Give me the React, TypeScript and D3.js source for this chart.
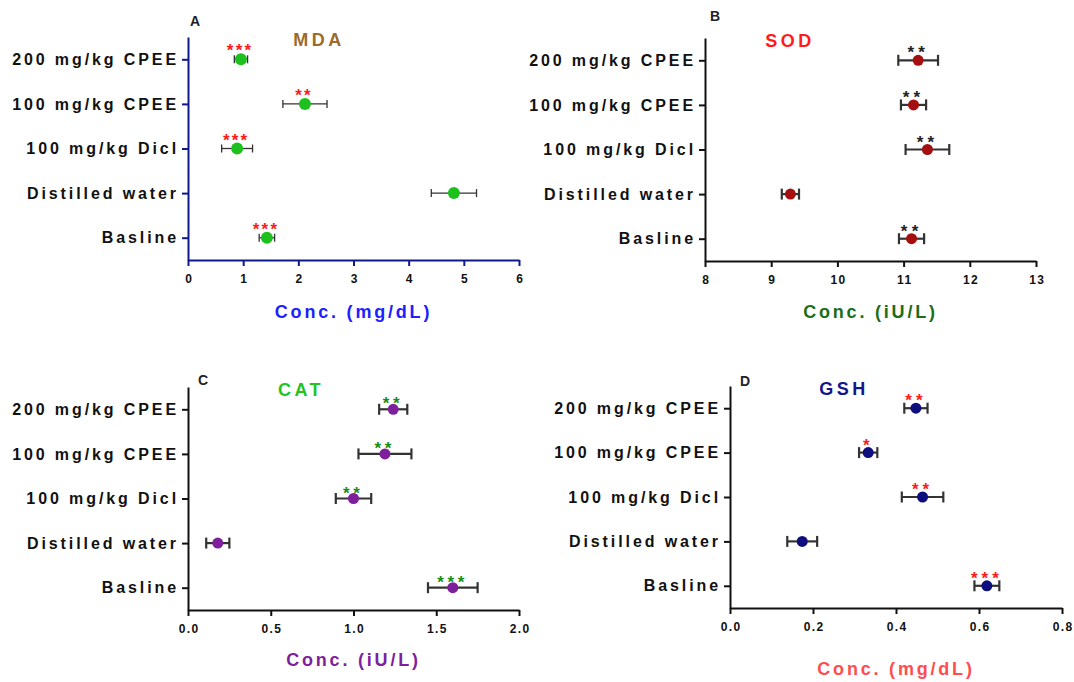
import React, { useEffect, useRef } from 'react';
import * as d3 from 'd3';

const groups = ['200 mg/kg CPEE', '100 mg/kg CPEE', '100 mg/kg Dicl', 'Distilled water', 'Basline'];

// MDA (mg/dL)
const mdaMean = [0.96, 2.12, 0.89, 4.82, 1.43];
const mdaSem = [0.12, 0.4, 0.28, 0.41, 0.14];
const mdaStars = ['***', '**', '***', '', '***'];
const mdaTicks = [0, 1, 2, 3, 4, 5, 6];

// SOD (iU/L)
const sodMean = [11.22, 11.15, 11.36, 9.29, 11.12];
const sodSem = [0.3, 0.19, 0.33, 0.13, 0.19];
const sodStars = ['**', '**', '**', '', '**'];
const sodTicks = [8, 9, 10, 11, 12, 13];

// CAT (iU/L)
const catMean = [1.24, 1.19, 1.0, 0.18, 1.6];
const catSem = [0.085, 0.16, 0.107, 0.07, 0.15];
const catStars = ['**', '**', '**', '', '***'];
const catTicks = [0, 0.5, 1, 1.5, 2];

// GSH (mg/dL)
const gshMean = [0.448, 0.333, 0.464, 0.174, 0.619];
const gshSem = [0.028, 0.022, 0.05, 0.036, 0.03];
const gshStars = ['**', '*', '**', '', '***'];
const gshTicks = [0, 0.2, 0.4, 0.6, 0.8];

const FONT = '"Liberation Sans", Arial, sans-serif';

const panels = [
  {
    letter: 'A', title: 'MDA', titleColor: '#9b6a2c', xLabel: 'Conc. (mg/dL)', xLabelColor: '#2020ff',
    mean: mdaMean, sem: mdaSem, stars: mdaStars, ticks: mdaTicks, fmt: d3.format('d'),
    x0: 188, x1: 519, top: 37, bottom: 260, axisColor: '#10198c', dot: '#1ec01e', r: 6,
    barW: 1.3, cap: 4, starColor: '#ff1a1a', starSpacing: 2.2, starDy: -3,
    titleX: 319, letterX: 195, letterY: 26, xLabelDy: 58,
  },
  {
    letter: 'B', title: 'SOD', titleColor: '#ff1a1a', xLabel: 'Conc. (iU/L)', xLabelColor: '#1a6e1a',
    mean: sodMean, sem: sodSem, stars: sodStars, ticks: sodTicks, fmt: d3.format('d'),
    x0: 705, x1: 1036, top: 38, bottom: 261, axisColor: '#111', dot: '#a50f0f', r: 5.5,
    barW: 2.2, cap: 5.5, starColor: '#222', starSpacing: 4.2, starDy: -2,
    titleX: 790, letterX: 715, letterY: 21, xLabelDy: 57,
  },
  {
    letter: 'C', title: 'CAT', titleColor: '#22c422', xLabel: 'Conc. (iU/L)', xLabelColor: '#7e1f9c',
    mean: catMean, sem: catSem, stars: catStars, ticks: catTicks, fmt: d3.format('.1f'),
    x0: 188, x1: 519, top: 387, bottom: 610, axisColor: '#111', dot: '#7e1f9c', r: 5.5,
    barW: 2.2, cap: 5.5, starColor: '#1a8c1a', starSpacing: 3.6, starDy: 0,
    titleX: 301, letterX: 203, letterY: 385, xLabelDy: 56,
  },
  {
    letter: 'D', title: 'GSH', titleColor: '#15158a', xLabel: 'Conc. (mg/dL)', xLabelColor: '#ff4d4d',
    mean: gshMean, sem: gshSem, stars: gshStars, ticks: gshTicks, fmt: d3.format('.1f'),
    x0: 730, x1: 1062, top: 386, bottom: 608, axisColor: '#111', dot: '#0e0e7e', r: 5.5,
    barW: 2.2, cap: 5.5, starColor: '#ff1a1a', starSpacing: 4, starDy: -2,
    titleX: 844, letterX: 745, letterY: 386, xLabelDy: 67,
  },
];

const App = () => {
  const svgRef = useRef<SVGSVGElement>(null);

  useEffect(() => {
    document.body.style.margin = '0';
    const svg = d3.select(svgRef.current);
    svg.selectAll('*').remove();

    panels.forEach((p) => {
      const g = svg.append('g');
      const x = d3.scaleLinear()
        .domain([p.ticks[0], p.ticks[p.ticks.length - 1]])
        .range([p.x0, p.x1]);
      const y = d3.scalePoint<string>()
        .domain(groups)
        .range([p.top, p.bottom])
        .padding(0.5);

      // y axis
      const ya = g.append('g')
        .attr('transform', `translate(${p.x0},0)`)
        .call(d3.axisLeft(y).tickSize(6).tickSizeOuter(0).tickPadding(3));
      ya.select('.domain').attr('stroke', p.axisColor).attr('stroke-width', 2);
      ya.selectAll('.tick line').attr('stroke', p.axisColor).attr('stroke-width', 2);
      ya.selectAll('.tick text')
        .attr('fill', '#111')
        .style('font-family', FONT)
        .style('font-size', '16px')
        .style('font-weight', 'bold')
        .style('letter-spacing', '2.9px');

      // x axis
      const xa = g.append('g')
        .attr('transform', `translate(0,${p.bottom})`)
        .call(d3.axisBottom(x).tickValues(p.ticks).tickFormat(p.fmt as any).tickSize(6).tickSizeOuter(0).tickPadding(8));
      xa.select('.domain').attr('stroke', p.axisColor).attr('stroke-width', 2);
      xa.selectAll('.tick line').attr('stroke', p.axisColor).attr('stroke-width', 2);
      xa.selectAll('.tick text')
        .attr('fill', '#111')
        .attr('dx', '0.7px')
        .style('font-family', FONT)
        .style('font-size', '12px')
        .style('font-weight', 'bold')
        .style('letter-spacing', '1.4px');

      // error bars
      const rows = groups.map((name, i) => ({ name, m: p.mean[i], s: p.sem[i], st: p.stars[i] }));
      const eb = g.append('g').attr('stroke', '#333').attr('stroke-width', p.barW);
      eb.selectAll('.bar')
        .data(rows)
        .enter()
        .append('line')
        .attr('x1', (d) => x(d.m - d.s))
        .attr('x2', (d) => x(d.m + d.s))
        .attr('y1', (d) => y(d.name)!)
        .attr('y2', (d) => y(d.name)!);
      eb.selectAll('.capl')
        .data(rows)
        .enter()
        .append('line')
        .attr('x1', (d) => x(d.m - d.s))
        .attr('x2', (d) => x(d.m - d.s))
        .attr('y1', (d) => y(d.name)! - p.cap)
        .attr('y2', (d) => y(d.name)! + p.cap);
      eb.selectAll('.capr')
        .data(rows)
        .enter()
        .append('line')
        .attr('x1', (d) => x(d.m + d.s))
        .attr('x2', (d) => x(d.m + d.s))
        .attr('y1', (d) => y(d.name)! - p.cap)
        .attr('y2', (d) => y(d.name)! + p.cap);

      // means
      g.selectAll('circle')
        .data(rows)
        .enter()
        .append('circle')
        .attr('cx', (d) => x(d.m))
        .attr('cy', (d) => y(d.name)!)
        .attr('r', p.r)
        .attr('fill', p.dot);

      // significance stars
      g.selectAll('.star')
        .data(rows.filter((d) => d.st))
        .enter()
        .append('text')
        .attr('x', (d) => x(d.m) - 2 + p.starSpacing / 2)
        .attr('y', (d) => y(d.name)! + p.starDy)
        .attr('text-anchor', 'middle')
        .attr('fill', p.starColor)
        .style('font-family', FONT)
        .style('font-size', '17px')
        .style('font-weight', 'bold')
        .style('letter-spacing', `${p.starSpacing}px`)
        .text((d) => d.st);

      // titles
      g.append('text')
        .attr('x', p.titleX)
        .attr('y', p.top + 9)
        .attr('text-anchor', 'middle')
        .attr('fill', p.titleColor)
        .style('font-family', FONT)
        .style('font-size', '18px')
        .style('font-weight', 'bold')
        .style('letter-spacing', '3.5px')
        .text(p.title);

      g.append('text')
        .attr('x', p.letterX)
        .attr('y', p.letterY)
        .attr('text-anchor', 'middle')
        .attr('fill', '#222')
        .style('font-family', FONT)
        .style('font-size', '14px')
        .style('font-weight', 'bold')
        .text(p.letter);

      g.append('text')
        .attr('x', (p.x0 + p.x1) / 2)
        .attr('y', p.bottom + p.xLabelDy)
        .attr('text-anchor', 'middle')
        .attr('fill', p.xLabelColor)
        .style('font-family', FONT)
        .style('font-size', '18px')
        .style('font-weight', 'bold')
        .style('letter-spacing', '2.8px')
        .text(p.xLabel);
    });
  }, []);

  return <svg ref={svgRef} width={1074} height={682} style={{ display: 'block', background: '#fff' }}></svg>;
};

export default App;
